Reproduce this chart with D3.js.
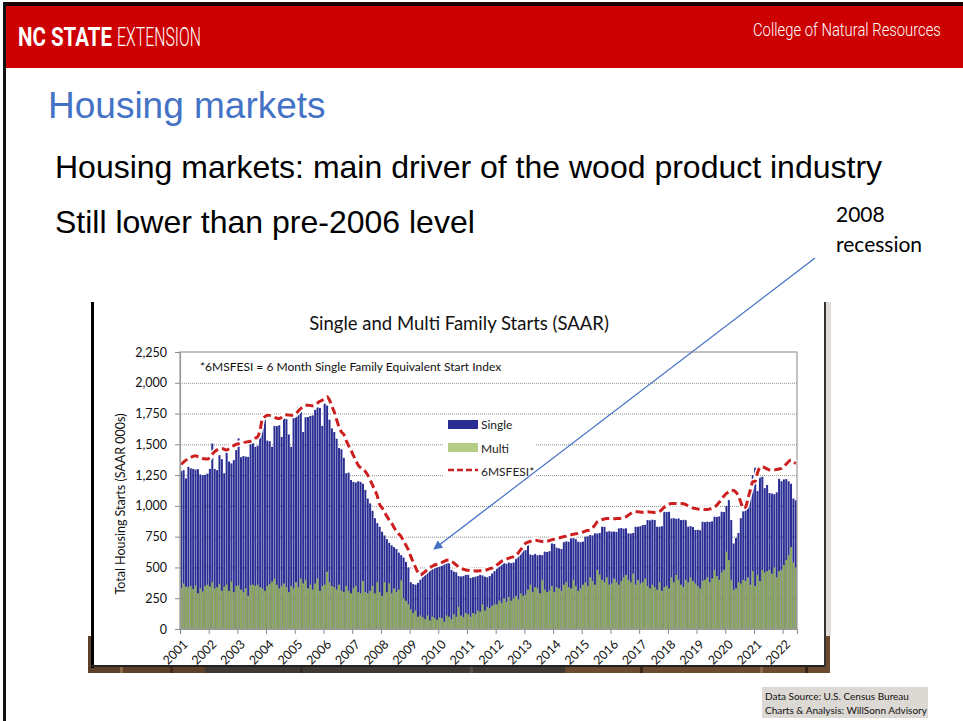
<!DOCTYPE html>
<html>
<head>
<meta charset="utf-8">
<script src="https://cdn.jsdelivr.net/npm/d3@7"></script>
<style>
  body { margin: 0; background: #fff; }
  svg { display: block; }
</style>
</head>
<body>
<div id="vis"></div>
<script>
// monthly SAAR (000s), Jan 2001 - Jun 2022
const single = [
  1282, 1290, 1223, 1317, 1305, 1300, 1295, 1298, 1255, 1250, 1252, 1262,
  1300, 1507, 1300, 1290, 1412, 1380, 1265, 1453, 1360, 1345, 1372, 1453,
  1548, 1395, 1405, 1400, 1398, 1508, 1512, 1480, 1488, 1629, 1632, 1710,
  1530, 1525, 1480, 1650, 1648, 1655, 1560, 1710, 1705, 1580, 1480, 1740,
  1745, 1804, 1795, 1600, 1720, 1722, 1730, 1735, 1780, 1800, 1795, 1650,
  1830, 1815, 1700, 1630, 1600, 1545, 1470, 1460, 1390, 1265, 1270, 1210,
  1195, 1190, 1200, 1195, 1180, 1130, 1060, 1020, 960, 900, 860, 830,
  790, 760, 730, 700, 680, 665, 650, 620, 600, 580, 545, 500,
  380, 365, 360, 375, 400, 470, 495, 505, 500, 510, 505, 520,
  520, 530, 534, 560, 555, 480, 466, 460, 430, 426, 430, 440,
  440, 415, 420, 425, 430, 440, 435, 425, 420, 430, 450, 470,
  520, 515, 530, 535, 530, 540, 535, 540, 600, 610, 640, 645,
  640, 682, 605, 600, 610, 598, 602, 600, 628, 625, 632, 695,
  690, 660, 655, 650, 705, 712, 709, 736, 738, 730, 709, 705,
  710, 750, 752, 763, 760, 777, 775, 780, 831, 830, 790, 795,
  790, 792, 788, 817, 820, 815, 818, 777, 775, 780, 831, 830,
  835, 844, 846, 885, 882, 888, 885, 831, 830, 835, 952, 950,
  952, 898, 900, 895, 898, 885, 887, 884, 831, 835, 828, 804,
  806, 802, 871, 868, 872, 870, 875, 912, 910, 915, 952, 950,
  1000, 1047, 885, 695, 740, 780, 900, 960, 1050, 1130, 1180, 1250,
  1310, 1120, 1230, 1236, 1144, 1170, 1105, 1100, 1095, 1110, 1220, 1200,
  1215, 1218, 1200, 1180, 1060, 1045
];

const multi = [
  330, 370, 345, 340, 350, 325, 355, 290, 330, 305, 350, 360,
  345, 380, 330, 340, 365, 310, 345, 360, 310, 385, 300, 350,
  355, 320, 300, 330, 270, 355, 360, 350, 360, 340, 330, 310,
  350, 365, 385, 410, 360, 330, 350, 370, 340, 300, 350, 330,
  380, 340, 410, 370, 400, 330, 360, 320, 370, 410, 310, 350,
  360, 465, 380, 350, 340, 320, 360, 310, 300, 350, 310, 290,
  330, 350, 300, 290, 390, 300, 290, 310, 350, 290, 380, 300,
  270, 380, 300, 370, 290, 330, 300, 320, 395, 250, 230, 200,
  160, 130, 150, 100, 110, 95, 80, 110, 70, 100, 90, 75,
  95, 90, 60, 110, 100, 80, 120, 100, 180, 110, 95, 130,
  120, 100, 130, 120, 150, 140, 200, 150, 180, 170, 190, 200,
  200, 230, 210, 250, 220, 260, 230, 250, 270, 240, 290, 270,
  280, 320, 360, 300, 340, 330, 290, 400, 320, 300, 310, 350,
  300, 340, 330, 310, 360, 380, 340, 330, 400, 350, 310, 330,
  360, 380, 350, 420, 390, 360, 480, 440, 400, 380, 420, 360,
  370, 410, 380, 360, 390, 420, 440, 400, 380, 450, 360, 400,
  370, 380, 410, 350, 330, 360, 340, 320, 380, 310, 340, 350,
  330, 420, 380, 440, 400, 360, 340, 400, 380, 420, 390, 370,
  350, 330, 390, 400, 420, 380, 410, 480, 430, 400, 460, 480,
  628, 560, 400, 317, 330, 380, 370, 400, 390, 420, 360, 470,
  350, 440, 390, 480, 460, 470, 480, 450, 500, 420, 470, 480,
  520, 560, 600, 666, 540, 500
];

const msfesi = [
  1337, 1355, 1372, 1385, 1395, 1402, 1407, 1400, 1392, 1385, 1382, 1380,
  1395, 1420, 1440, 1455, 1465, 1467, 1460, 1453, 1465, 1480, 1490, 1500,
  1505, 1512, 1515, 1518, 1522, 1525, 1535, 1550, 1561, 1620, 1710, 1725,
  1737, 1735, 1728, 1720, 1712, 1710, 1720, 1737, 1740, 1738, 1736, 1737,
  1750, 1770, 1791, 1805, 1818, 1818, 1815, 1813, 1820, 1835, 1850, 1859,
  1870, 1886, 1860, 1810, 1764, 1700, 1640, 1600, 1580, 1530, 1490, 1453,
  1410, 1370, 1331, 1310, 1295, 1280, 1250, 1210, 1170, 1128, 1080, 1010,
  985, 950, 915, 885, 860, 825, 795, 772, 750, 715, 680, 642,
  590, 545, 500, 460, 439, 450, 466, 485, 500, 510, 520, 525,
  530, 540, 550, 558, 560, 550, 537, 520, 505, 493, 485, 480,
  477, 474, 473, 472, 472, 473, 474, 476, 482, 490, 495, 505,
  520, 535, 550, 560, 567, 575, 582, 587, 600, 620, 645, 670,
  695, 705, 712, 718, 722, 718, 714, 710, 709, 712, 718, 725,
  730, 736, 740, 745, 750, 755, 763, 766, 770, 773, 777, 782,
  788, 795, 800, 804, 820, 845, 871, 880, 888, 894, 898, 898,
  895, 896, 897, 898, 900, 905, 912, 925, 938, 950, 952, 952,
  950, 948, 950, 952, 950, 948, 947, 947, 955, 970, 990, 1005,
  1015, 1020, 1020, 1020, 1020, 1020, 1018, 1010, 1000, 990, 983, 979,
  975, 972, 970, 970, 971, 975, 980, 990, 1006, 1030, 1060, 1080,
  1101, 1115, 1128, 1125, 1110, 1080, 1030, 979, 990, 1060, 1130, 1196,
  1200, 1270, 1310, 1318, 1310, 1300, 1292, 1290, 1292, 1296, 1300, 1304,
  1320, 1340, 1360, 1372, 1355, 1345
];

const yearLabels = ["2001", "2002", "2003", "2004", "2005", "2006", "2007", "2008",
  "2009", "2010", "2011", "2012", "2013", "2014", "2015", "2016", "2017", "2018",
  "2019", "2020", "2021", "2022"];
const yTicks = [0, 250, 500, 750, 1000, 1250, 1500, 1750, 2000, 2250];
const legendItems = ["Single", "Multi", "6MSFESI*"];

const W = 963, H = 721;
const chartFont = "Lato, 'Open Sans', sans-serif";
const slideFont = "'Liberation Sans', Arial, sans-serif";
const headFont = "Roboto, 'Liberation Sans', sans-serif";

const svg = d3.select("#vis").append("svg")
  .attr("width", W).attr("height", H);

// == slide frame ==
svg.append("rect").attr("x", 0).attr("y", 0).attr("width", W).attr("height", H).attr("fill", "#fff");
svg.append("rect").attr("x", 3).attr("y", 2).attr("width", W - 3).attr("height", 5).attr("fill", "#1a0000");
svg.append("rect").attr("x", 5).attr("y", 6).attr("width", W - 5).attr("height", 62).attr("fill", "#cc0000");
svg.append("rect").attr("x", 3).attr("y", 2).attr("width", 3).attr("height", H).attr("fill", "#111");

// condensed header text: squeeze a text horizontally to a given width
function squeezed(tx, ty, width, size, weight, str) {
  const g = svg.append("g");
  const t = g.append("text").attr("x", 0).attr("y", 0).attr("fill", "#fff")
    .style("font-family", headFont).style("font-size", size + "px")
    .attr("font-weight", weight).text(str);
  const k = width / t.node().getComputedTextLength();
  g.attr("transform", `translate(${tx},${ty}) scale(${k},1)`);
}
squeezed(18, 46, 94, 26, "bold", "NC STATE");
squeezed(117, 46, 84, 26, 300, "EXTENSION");
squeezed(753, 36, 188, 19, 300, "College of Natural Resources");

svg.append("text").attr("x", 48).attr("y", 118).attr("fill", "#4472c4")
  .style("font-family", slideFont).style("font-size", "37px")
  .text("Housing markets");

svg.append("text").attr("x", 55).attr("y", 178).attr("fill", "#000")
  .style("font-family", slideFont).style("font-size", "32px")
  .text("Housing markets: main driver of the wood product industry");

svg.append("text").attr("x", 55).attr("y", 233).attr("fill", "#000")
  .style("font-family", slideFont).style("font-size", "32px")
  .text("Still lower than pre-2006 level");

svg.append("text").attr("x", 836).attr("y", 222).attr("fill", "#000")
  .style("font-family", chartFont).style("font-size", "21px").text("2008");
svg.append("text").attr("x", 836).attr("y", 252).attr("fill", "#000")
  .style("font-family", chartFont).style("font-size", "21px").text("recession");

// == chart picture: wood strip, box ==
svg.append("rect").attr("x", 88).attr("y", 636).attr("width", 742).attr("height", 37).attr("fill", "#5e4029");
svg.append("rect").attr("x", 205).attr("y", 636).attr("width", 360).attr("height", 37).attr("fill", "#3f3934");
svg.append("rect").attr("x", 565).attr("y", 636).attr("width", 265).attr("height", 37).attr("fill", "#6b4b30");
[[120, "#8a6a48"], [170, "#40291a"], [300, "#2e2a27"], [470, "#55504a"], [640, "#3d2818"], [760, "#8b6b4a"], [805, "#3a2616"]]
  .forEach(([sx, c]) => {
    svg.append("rect").attr("x", sx).attr("y", 636).attr("width", 3).attr("height", 37).attr("fill", c);
  });
svg.append("rect").attr("x", 825).attr("y", 302).attr("width", 6).attr("height", 334).attr("fill", "#e0dcd8");
svg.append("rect").attr("x", 93).attr("y", 302).attr("width", 732).attr("height", 363).attr("fill", "#fff");
svg.append("rect").attr("x", 91).attr("y", 302).attr("width", 3).attr("height", 366).attr("fill", "#000");
svg.append("rect").attr("x", 91).attr("y", 665).attr("width", 735).attr("height", 2).attr("fill", "#222");
svg.append("rect").attr("x", 824).attr("y", 302).attr("width", 2).attr("height", 365).attr("fill", "#333");

// == plot ==
const x = d3.scaleLinear().domain([0, single.length]).range([180, 797]);
const y = d3.scaleLinear().domain([0, 2250]).range([629, 352]);
const step = x(1) - x(0);

svg.append("text").attr("x", 459).attr("y", 330).attr("text-anchor", "middle")
  .style("font-family", chartFont).style("font-size", "18.5px").attr("fill", "#111")
  .text("Single and Multi Family Starts (SAAR)");

svg.append("g").selectAll("line")
  .data(yTicks.filter(d => d > 0 && d < 2250))
  .enter().append("line")
  .attr("x1", 180).attr("x2", 797)
  .attr("y1", d => y(d) + 0.5).attr("y2", d => y(d) + 0.5)
  .attr("stroke", "#8a8a8a").attr("stroke-dasharray", "1,1");

svg.append("g").selectAll("rect")
  .data(single).enter().append("rect")
  .attr("x", (d, i) => x(i) + 0.2)
  .attr("width", step * 0.84)
  .attr("y", d => y(d))
  .attr("height", d => y(0) - y(d))
  .attr("fill", "#2a2e93");

svg.append("g").selectAll("rect")
  .data(multi).enter().append("rect")
  .attr("x", (d, i) => x(i) + 0.2)
  .attr("width", step * 0.84)
  .attr("y", d => y(d))
  .attr("height", d => y(0) - y(d))
  .attr("fill", "#8fa95f");

// plot frame
svg.append("rect").attr("x", 180).attr("y", 352).attr("width", 617).attr("height", 277)
  .attr("fill", "none").attr("stroke", "#9a9a9a").attr("stroke-width", 1.2);

// legend
svg.append("rect").attr("x", 443).attr("y", 416).attr("width", 93).attr("height", 62).attr("fill", "#fff");
const lg = svg.append("g").style("font-family", chartFont).style("font-size", "12px");
lg.append("rect").attr("x", 448).attr("y", 420).attr("width", 30).attr("height", 9).attr("fill", "#2a2e93");
lg.append("rect").attr("x", 448).attr("y", 443).attr("width", 30).attr("height", 9).attr("fill", "#b3cd87");
lg.append("line").attr("x1", 448).attr("x2", 478).attr("y1", 470).attr("y2", 470)
  .attr("stroke", "#cc1f1f").attr("stroke-width", 2.5).attr("stroke-dasharray", "6,3");
lg.selectAll("text").data(legendItems).enter().append("text")
  .attr("x", 481).attr("y", (d, i) => 429 + i * 23.5)
  .attr("fill", "#222").text(d => d);

// 6MSFESI line
const line = d3.line()
  .x((d, i) => x(i) + step / 2)
  .y(d => y(d))
  .curve(d3.curveMonotoneX);
svg.append("path").datum(msfesi).attr("d", line)
  .attr("fill", "none").attr("stroke", "#fff").attr("stroke-width", 6);
svg.append("path").datum(msfesi).attr("d", line)
  .attr("fill", "none").attr("stroke", "#cc1f1f").attr("stroke-width", 3)
  .attr("stroke-dasharray", "8,4");

svg.append("text").attr("x", 200).attr("y", 371)
  .style("font-family", chartFont).style("font-size", "12px").attr("fill", "#111")
  .text("*6MSFESI = 6 Month Single Family Equivalent Start Index");

// axes
const yAxis = svg.append("g").attr("transform", "translate(180,0)")
  .call(d3.axisLeft(y).tickValues(yTicks).tickFormat(d3.format(",")).tickSize(5).tickPadding(8));
const xAxis = svg.append("g").attr("transform", "translate(0,629)")
  .call(d3.axisBottom(x).tickValues(yearLabels.map((d, i) => i * 12))
    .tickFormat((d, i) => yearLabels[i]).tickSize(5));
[yAxis, xAxis].forEach(a => {
  a.select(".domain").attr("stroke", "#9a9a9a").attr("stroke-width", 1.2);
  a.selectAll(".tick line").attr("stroke", "#8a8a8a");
  a.selectAll("text").style("font-family", chartFont).style("font-size", "12.5px").attr("fill", "#111");
});
xAxis.selectAll(".tick text")
  .attr("x", 0).attr("y", 0).attr("dy", "0.35em")
  .attr("text-anchor", "end")
  .attr("transform", "translate(5,13) rotate(-45)");

svg.append("text")
  .attr("transform", "translate(125,504) rotate(-90)")
  .attr("text-anchor", "middle")
  .style("font-family", chartFont).style("font-size", "12.5px").attr("fill", "#111")
  .text("Total Housing Starts (SAAR 000s)");

// arrow to 2008 recession
svg.append("defs").append("marker")
  .attr("id", "arrow").attr("viewBox", "0 0 10 10").attr("refX", 9).attr("refY", 5)
  .attr("markerWidth", 7).attr("markerHeight", 7).attr("orient", "auto")
  .append("path").attr("d", "M0,0 L10,5 L0,10 z").attr("fill", "#4472c4");
svg.append("line").attr("x1", 815).attr("y1", 258).attr("x2", 434).attr("y2", 549)
  .attr("stroke", "#4472c4").attr("stroke-width", 1.3).attr("marker-end", "url(#arrow)");

// data source
svg.append("rect").attr("x", 762).attr("y", 687).attr("width", 166).attr("height", 31).attr("fill", "#dcd8d3");
svg.append("text").attr("x", 765).attr("y", 700)
  .style("font-family", chartFont).style("font-size", "10px").attr("fill", "#111")
  .text("Data Source: U.S. Census Bureau");
svg.append("text").attr("x", 765).attr("y", 714)
  .style("font-family", chartFont).style("font-size", "10px").attr("fill", "#111")
  .text("Charts & Analysis:  WillSonn Advisory");
</script>
</body>
</html>
